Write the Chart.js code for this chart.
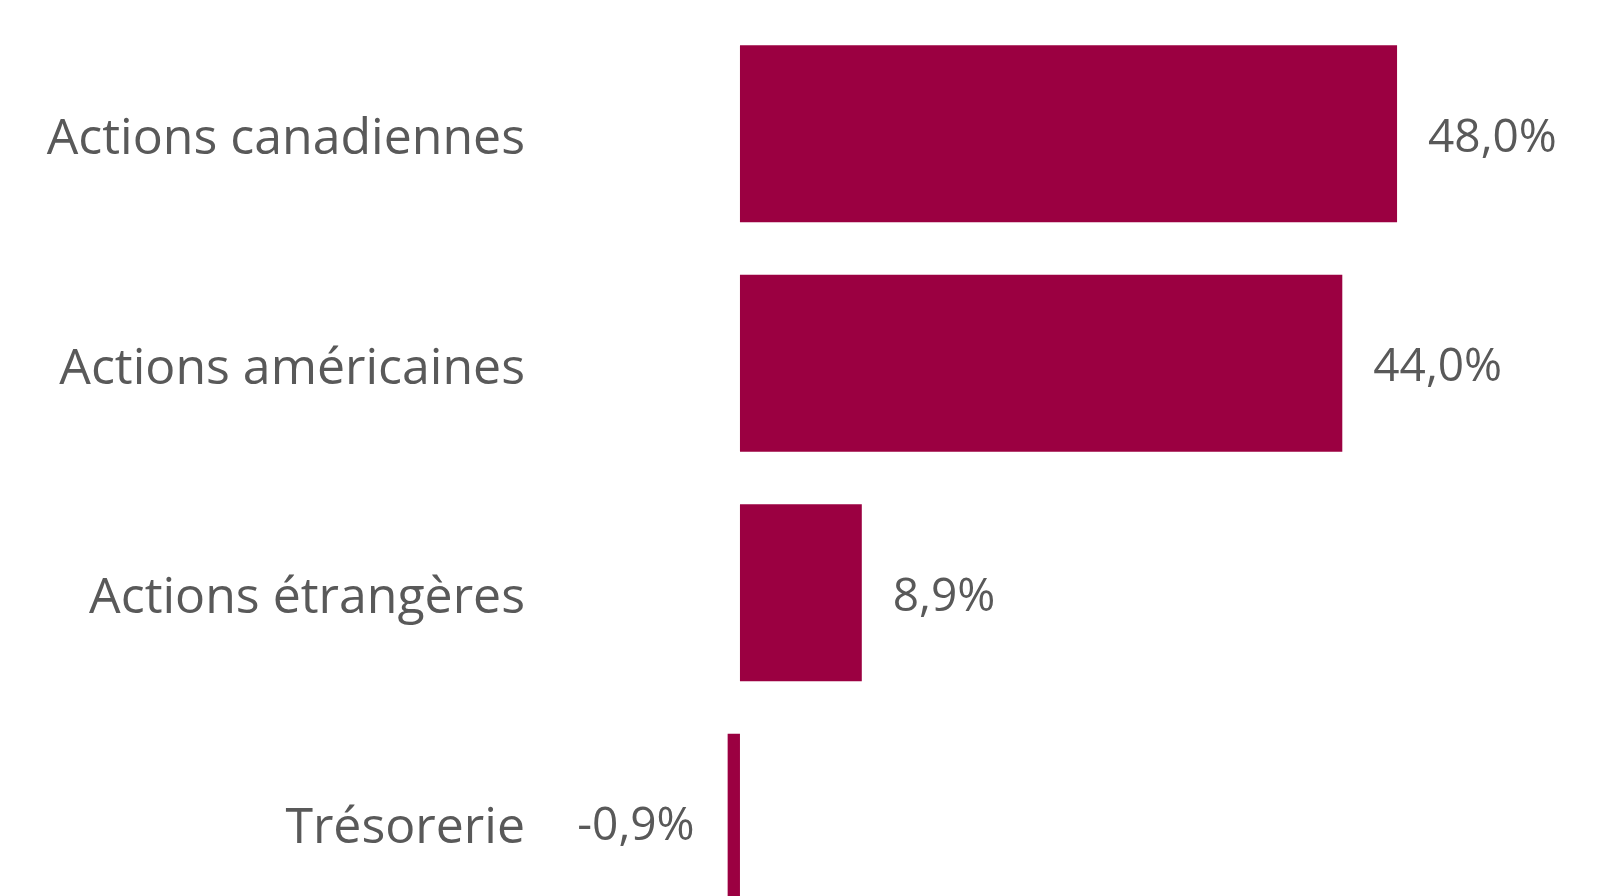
<!DOCTYPE html>
<html>
<head>
<meta charset="utf-8">
<script src="https://cdn.jsdelivr.net/npm/chart.js@4"></script>
<style>
  html, body { margin: 0; padding: 0; background: #fff; overflow: hidden; }
  canvas { display: block; }
</style>
</head>
<body>
<canvas id="allocation-chart" width="1605" height="940"></canvas>
<script>
// categories and values (%)
const categories = ['Actions canadiennes', 'Actions américaines', 'Actions étrangères', 'Trésorerie'];
const weights = [48.0, 44.0, 8.9, -0.9];

const barColor = '#9B0041';
const textColor = '#595959';
const fontFamily = '"Open Sans", "Noto Sans", sans-serif';

const formatPct = v => v.toFixed(1).replace('.', ',') + '%';

// draws the value next to the end of each bar
const valueLabels = {
    id: 'valueLabels',
    afterDatasetsDraw(chart) {
        const ctx = chart.ctx;
        const meta = chart.getDatasetMeta(0);
        ctx.save();
        ctx.font = '46px ' + fontFamily;
        ctx.fillStyle = textColor;
        ctx.textBaseline = 'middle';
        meta.data.forEach((bar, i) => {
            const v = weights[i];
            if (v >= 0) {
                ctx.textAlign = 'left';
                ctx.fillText(formatPct(v), bar.x + 31, bar.y + 5);
            } else {
                ctx.textAlign = 'right';
                ctx.fillText(formatPct(v), bar.x - 33, bar.y + 5);
            }
        });
        ctx.restore();
    }
};

const ctx = document.getElementById('allocation-chart').getContext('2d');
new Chart(ctx, {
    type: 'bar',
    data: {
        labels: categories,
        datasets: [{
            data: weights,
            backgroundColor: barColor,
            borderWidth: 0,
            categoryPercentage: 1,
            barPercentage: 0.771
        }]
    },
    options: {
        indexAxis: 'y',
        responsive: false,
        animation: false,
        layout: { padding: { top: 19, bottom: 3, left: 0, right: 2.6 } },
        plugins: {
            legend: { display: false },
            tooltip: { enabled: false }
        },
        scales: {
            x: {
                min: -13,
                max: 63,
                display: false
            },
            y: {
                grid: { display: false, drawTicks: false },
                border: { display: false },
                ticks: {
                    padding: 37,
                    labelOffset: 6,
                    color: textColor,
                    font: { family: fontFamily, size: 50 }
                },
                afterFit(scale) {
                    scale.width = 562;
                    scale.paddingTop = 0;
                    scale.paddingBottom = 0;
                }
            }
        }
    },
    plugins: [valueLabels]
});
</script>
</body>
</html>
